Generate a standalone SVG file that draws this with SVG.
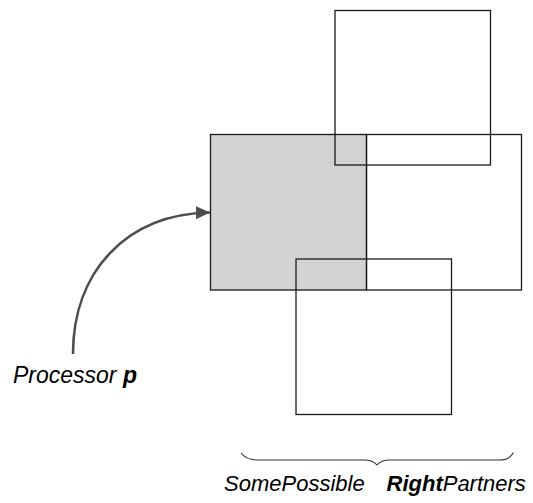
<svg xmlns="http://www.w3.org/2000/svg" width="533" height="503" viewBox="0 0 533 503">
  <defs>
    <style>
      .box { fill: none; stroke: #1a1a1a; stroke-width: 1.3; }
      .self { fill: #d3d3d3; stroke: #1a1a1a; stroke-width: 1.3; }
      .lbl { font-family: "Liberation Sans", Arial, sans-serif; font-size: 22px; font-style: italic; fill: #000; }
      .big { font-size: 23px; }
      .b { font-weight: bold; }
      .arrow { fill: none; stroke: #4d4d4d; stroke-width: 2.6; }
      .brace { fill: none; stroke: #333; stroke-width: 1.1; }
    </style>
    <marker id="head" markerWidth="15" markerHeight="14" refX="14" refY="7" orient="auto" markerUnits="userSpaceOnUse">
      <path d="M0,0.5 L14,7 L0,13.5 Z" fill="#4d4d4d"/>
    </marker>
  </defs>
  <rect width="533" height="503" fill="#fff"/>

  <!-- processor p (shaded) -->
  <g id="processor">
    <rect class="self" x="210.5" y="134.5" width="156" height="155.5"/>
  </g>

  <!-- candidate right partners -->
  <g id="partner-top">
    <rect class="box" x="335" y="10.5" width="155.5" height="154.5"/>
  </g>
  <g id="partner-right">
    <rect class="box" x="366.5" y="134.5" width="155" height="155.5"/>
  </g>
  <g id="partner-bottom">
    <rect class="box" x="296" y="259" width="155.5" height="155.5"/>
  </g>

  <g id="connectors">
    <path class="arrow" d="M73,354 C73,272 126,214 210,212.5" marker-end="url(#head)"/>
    <path class="brace" d="M241,453 Q246,460 258,460 L364,460 Q373,460 377,465 Q381,460 390,460 L499,460 Q510,460 513.5,452.5"/>
  </g>

  <g id="labels">
    <text class="lbl big" x="13" y="383">Processor <tspan class="b">p</tspan></text>
    <text class="lbl" x="224" y="491">SomePossible</text>
    <text class="lbl" x="386.5" y="491"><tspan class="b">Right</tspan>Partners</text>
  </g>
</svg>
